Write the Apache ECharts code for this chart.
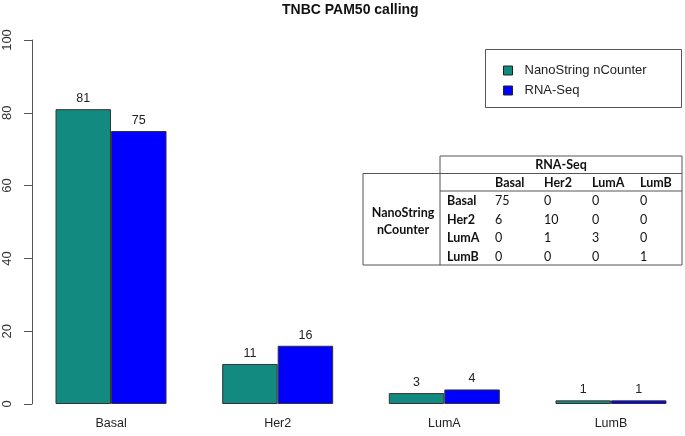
<!DOCTYPE html>
<html>
<head>
<meta charset="utf-8">
<script src="https://cdn.jsdelivr.net/npm/echarts@6/dist/echarts.min.js"></script>
<style>
html,body{margin:0;padding:0;background:#fff;overflow:hidden;width:685px;height:436px;}
#chart{width:700px;height:436px;}
</style>
</head>
<body>
<div id="chart"></div>
<script>
const titleText = 'TNBC PAM50 calling';
const categories = ['Basal', 'Her2', 'LumA', 'LumB'];
const seriesNames = ['NanoString nCounter', 'RNA-Seq'];
const nanoValues = [81, 11, 3, 1];
const rnaValues = [75, 16, 4, 1];
const yTicks = [0, 20, 40, 60, 80, 100];

const tableTitle = 'RNA-Seq';
const tableRowTitle = ['NanoString', 'nCounter'];
const tableCols = ['Basal', 'Her2', 'LumA', 'LumB'];
const tableRows = ['Basal', 'Her2', 'LumA', 'LumB'];
const tableValues = [
  [75, 0, 0, 0],
  [6, 10, 0, 0],
  [0, 1, 3, 0],
  [0, 0, 0, 1]
];

const colors = ['#138a80', '#0000ff'];
const lineColor = '#555';
const tFont = 'Lato, "Open Sans", sans-serif';
const aFont = '"Liberation Sans", Arial, sans-serif';

// table graphics
const T = {x0: 363, xMid: 440, x1: 682, y0: 156, y1: 173.5, y2: 191, y3: 265,
  colX: [495, 544, 592, 640], rowLabelX: 447, rowY: [201, 219.5, 238, 257], headY: 183};
const tableEls = [];
function line(x1, y1, x2, y2) {
  tableEls.push({type: 'line', shape: {x1, y1, x2, y2}, style: {stroke: lineColor, lineWidth: 1}, silent: true});
}
line(T.xMid, T.y0, T.x1, T.y0);
line(T.x1, T.y0, T.x1, T.y3);
line(T.xMid, T.y0, T.xMid, T.y3);
line(T.x0, T.y1, T.x1, T.y1);
line(T.x0, T.y1, T.x0, T.y3);
line(T.x0, T.y3, T.x1, T.y3);
line(T.xMid, T.y2, T.x1, T.y2);
function txt(s, x, y, bold, align) {
  tableEls.push({type: 'text', x, y, silent: true,
    style: {text: String(s), fill: '#111', font: (bold ? 'bold ' : '') + '12.5px ' + tFont,
      textAlign: align || 'left', textVerticalAlign: 'middle'}});
}
txt(tableTitle, (T.xMid + T.x1) / 2, 165, true, 'center');
tableCols.forEach((c, i) => txt(c, T.colX[i], T.headY, true));
tableRows.forEach((r, i) => {
  txt(r, T.rowLabelX, T.rowY[i], true);
  tableValues[i].forEach((v, j) => txt(v, T.colX[j], T.rowY[i], false));
});
txt(tableRowTitle[0], 403, 212.5, true, 'center');
txt(tableRowTitle[1], 403, 230, true, 'center');

const chart = echarts.init(document.getElementById('chart'), null, {renderer: 'canvas', width: 700, height: 436});
chart.setOption({
  animation: false,
  backgroundColor: '#fff',
  title: {
    text: titleText, left: 282, top: 3, padding: 0,
    textStyle: {fontFamily: aFont, fontSize: 14, fontWeight: 'bold', color: '#111'}
  },
  legend: {
    orient: 'vertical', left: 503, top: 62.5, padding: 0,
    itemWidth: 9, itemHeight: 9, itemGap: 4, icon: 'rect',
    data: seriesNames,
    itemStyle: {borderColor: '#222', borderWidth: 1},
    textStyle: {fontFamily: aFont, fontSize: 13, color: '#222', padding: [0, 0, 0, 7], lineHeight: 16}
  },
  grid: {left: 27.7, top: 40, width: 666.6, height: 364, containLabel: false},
  xAxis: {
    type: 'category', data: categories,
    axisLine: {show: false}, axisTick: {show: false},
    axisLabel: {margin: 13, fontFamily: aFont, fontSize: 12.5, color: '#222'}
  },
  yAxis: {
    type: 'value', min: 0, max: 100, interval: 20, offset: -4.3,
    axisLine: {show: true, lineStyle: {color: lineColor, width: 1}},
    axisTick: {show: true, length: 8, lineStyle: {color: lineColor}},
    splitLine: {show: false},
    axisLabel: {rotate: 90, margin: 18, fontFamily: aFont, fontSize: 13, color: '#333',
      formatter: v => yTicks.includes(v) ? String(v) : ''}
  },
  series: [
    {name: seriesNames[0], type: 'bar', data: nanoValues, barWidth: 55.5, barGap: '0%',
      itemStyle: {color: colors[0], borderColor: '#333', borderWidth: 1},
      label: {show: true, position: 'top', distance: 4, fontFamily: aFont, fontSize: 12.5, color: '#222'}},
    {name: seriesNames[1], type: 'bar', data: rnaValues, barWidth: 55.5, barGap: '0%',
      itemStyle: {color: colors[1], borderColor: '#333', borderWidth: 1},
      label: {show: true, position: 'top', distance: 4, fontFamily: aFont, fontSize: 12.5, color: '#222'}}
  ],
  graphic: [
    {type: 'rect', shape: {x: 485.5, y: 49.5, width: 196, height: 58}, style: {fill: 'none', stroke: lineColor, lineWidth: 1}, silent: true},
    {type: 'group', children: tableEls}
  ]
});
</script>
</body>
</html>
